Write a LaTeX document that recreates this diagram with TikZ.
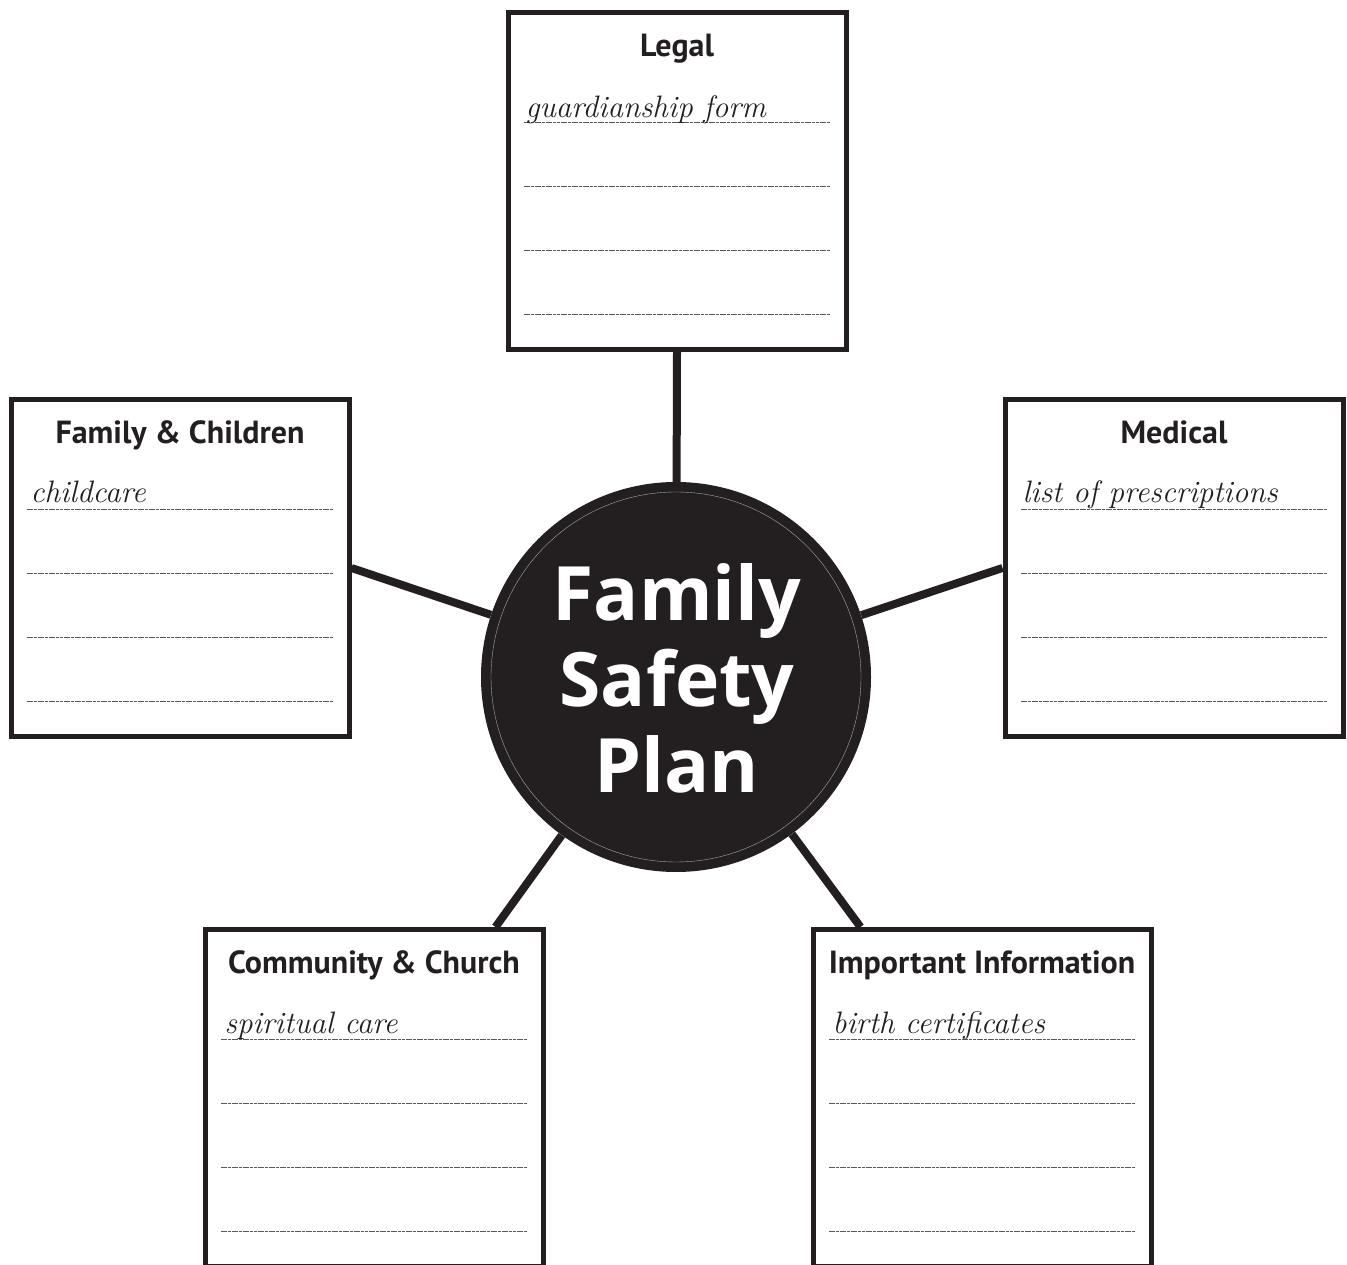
\documentclass[tikz,border=0pt]{standalone}
\usepackage{fontspec}
\newfontfamily\headfont{PT Sans}
\newfontfamily\bigfont{Open Sans}
\usepackage{tikz}
\usetikzlibrary{calc, positioning}
\definecolor{ink}{HTML}{231F20}
\newcommand{\drawe}{\draw[line width=8pt, color=ink]}
\newcommand{\dongke}[1]{%
  \draw[ke] ($(#1.north west)+(18,-113)$) -- ($(#1.north east)+(-18,-113)$);
  \draw[ke] ($(#1.north west)+(18,-177)$) -- ($(#1.north east)+(-18,-177)$);
  \draw[ke] ($(#1.north west)+(18,-241)$) -- ($(#1.north east)+(-18,-241)$);
  \draw[ke] ($(#1.north west)+(18,-305)$) -- ($(#1.north east)+(-18,-305)$);}
\tikzset{
  khung/.style={draw=ink, line width=5pt, minimum width=338pt, minimum height=337pt, inner sep=0pt},
  tieude/.style={anchor=base, text=ink, font=\headfont\bfseries\fontsize{32}{36}\selectfont},
  viet/.style={anchor=base west, inner sep=0pt, text=ink, font=\itshape\fontsize{31}{34}\selectfont},
  ke/.style={color=ink!75, line width=1pt, dash pattern=on 3pt off 0.7pt}
}

\begin{document}
\begin{tikzpicture}[x=1pt, y=1pt]
\useasboundingbox (0,0) rectangle (1347,1264);
\fill[white] (0,0) rectangle (1347,1264);
\clip (0,0) rectangle (1347,1264);

% Vong tron giua
\node[circle, fill=ink, minimum size=390pt, inner sep=0pt] (hub) at (676,587) {};
\draw[gray!70, line width=0.4pt] (hub.center) circle (185);
\node[text=white, align=center, font=\bigfont\bfseries\fontsize{75}{86}\selectfont] (tieu) at (677,586) {Family\\Safety\\Plan};

% Cac khung
\node[khung] (legal) at (677,1083) {};
\node[khung] (famkid) at (180,696) {};
\node[khung] (medical) at (1174,696) {};
\node[khung] (comm) at (374,166) {};
\node[khung] (info) at (982,166) {};

% Tieu de khung
\node[tieude] (legalT) at ($(legal.north)+(0,-47)$) {Legal};
\node[tieude] (famkidT) at ($(famkid.north)+(0,-47)$) {Family \& Children};
\node[tieude] (medicalT) at ($(medical.north)+(0,-47)$) {Medical};
\node[tieude] (commT) at ($(comm.north)+(0,-47)$) {Community \& Church};
\node[tieude] (infoT) at ($(info.north)+(0,-47)$) {Important Information};

% Dong ke
\dongke{legal}
\dongke{famkid}
\dongke{medical}
\dongke{comm}
\dongke{info}

% Chu viet tay
\node[viet] (legalV) at ($(legal.north west)+(20,-108)$) {guardianship form};
\node[viet] (famkidV) at ($(famkid.north west)+(22,-106)$) {childcare};
\node[viet] (medicalV) at ($(medical.north west)+(20,-106)$) {list of prescriptions};
\node[viet] (commV) at ($(comm.north west)+(22,-107)$) {spiritual care};
\node[viet] (infoV) at ($(info.north west)+(22,-107)$) {birth certificates};

% Duong noi
\drawe (legal.south) -- (hub);
\drawe (famkid.east) -- (hub);
\drawe (medical.west) -- (hub);
\drawe ([xshift=-50pt]comm.north east) -- (hub);
\drawe ([xshift=50pt]info.north west) -- (hub);

\end{tikzpicture}
\end{document}
